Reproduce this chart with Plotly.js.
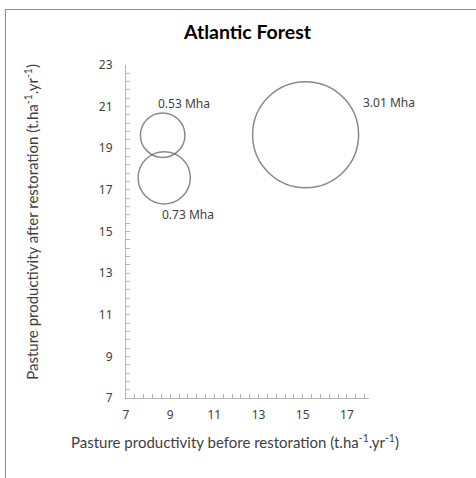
<!DOCTYPE html>
<html>
<head>
<meta charset="utf-8">
<script src="https://cdn.plot.ly/plotly-3.0.1.min.js"></script>
<style>
  html, body { margin: 0; padding: 0; background: #ffffff; overflow: hidden; }
  #frame { position: absolute; left: 5px; top: 9px; width: 490px; height: 490px; border: 1px solid #8c8c8c; box-sizing: border-box; }
  #chart { position: absolute; left: 0; top: 0; width: 476px; height: 478px; }
</style>
</head>
<body>
<div id="frame"></div>
<div id="chart"></div>
<script>
// Data
const labels = ["0.53 Mha", "0.73 Mha", "3.01 Mha"];
const before = [8.66, 8.73, 15.13];   // x: productivity before restoration
const after = [19.63, 17.58, 19.65];  // y: productivity after restoration
const area = [0.53, 0.73, 3.01];      // bubble size (Mha)

const xTicks = [7, 9, 11, 13, 15, 17];
const yTicks = [7, 9, 11, 13, 15, 17, 19, 21, 23];
const minorStep = 0.4;

const FONT = "'Noto Sans', 'Open Sans', sans-serif";
const TFONT = "Lato, 'Noto Sans', sans-serif";
const TXT = "#404040";

// label offsets (pixels) relative to each bubble
const labelStyle = [
  {xshift: 21, yshift: 32, xanchor: "center"},
  {xshift: 24, yshift: -37, xanchor: "center"},
  {xshift: 55, yshift: 32, xanchor: "left"}
];

const trace = {
  type: "scatter",
  mode: "markers",
  x: before,
  y: after,
  text: labels,
  hoverinfo: "text",
  marker: {
    size: area,
    sizemode: "area",
    sizeref: 3.01 / (2 * 53 * 53),
    color: "rgba(0,0,0,0)",
    line: {color: "#595959", width: 1.5}
  },
  showlegend: false
};

const annotations = labels.map((t, i) => Object.assign({
  x: before[i], y: after[i], xref: "x", yref: "y",
  text: t, showarrow: false, yanchor: "middle",
  font: {family: FONT, size: 12, color: TXT}
}, labelStyle[i]));

annotations.push({
  xref: "paper", yref: "paper", x: 0.45, y: -0.13, xanchor: "center", yanchor: "middle",
  text: "Pasture productivity before restoration (t.ha<sup>-1</sup>.yr<sup>-1</sup>)",
  showarrow: false, font: {family: TFONT, size: 15, color: TXT}
});
annotations.push({
  xref: "paper", yref: "paper", x: -0.39, y: 0.53, xanchor: "center", yanchor: "middle",
  textangle: -90,
  text: "Pasture productivity after restoration (t.ha<sup>-1</sup>.yr<sup>-1</sup>)",
  showarrow: false, font: {family: TFONT, size: 15, color: TXT}
});

function axis(ticks, range, standoff) {
  return {
    range: range,
    showgrid: false,
    zeroline: false,
    showline: true,
    linecolor: "#b3b3b3",
    linewidth: 1,
    tickmode: "linear",
    tick0: ticks[0],
    dtick: ticks[1] - ticks[0],
    ticks: "inside",
    ticklen: 4,
    tickcolor: "#b3b3b3",
    ticklabelstandoff: standoff,
    tickfont: {family: FONT, size: 12, color: TXT},
    minor: {ticks: "inside", ticklen: 4, tickcolor: "#b3b3b3", tick0: ticks[0], dtick: minorStep, showgrid: false},
    fixedrange: true
  };
}

const layout = {
  width: 476,
  height: 478,
  margin: {l: 126, r: 107, t: 65, b: 80},
  paper_bgcolor: "rgba(0,0,0,0)",
  plot_bgcolor: "rgba(0,0,0,0)",
  title: {
    text: "<b>Atlantic Forest</b>",
    x: 0.5, xref: "paper", xanchor: "center",
    y: 1 - 32 / 478, yref: "container", yanchor: "middle",
    font: {family: TFONT, size: 19.5, color: "#000000"}
  },
  xaxis: axis(xTicks, [xTicks[0], 18], 6),
  yaxis: axis(yTicks, [yTicks[0], yTicks[yTicks.length - 1]], 10),
  annotations: annotations
};

Plotly.newPlot("chart", [trace], layout, {staticPlot: true, displayModeBar: false});
</script>
</body>
</html>
